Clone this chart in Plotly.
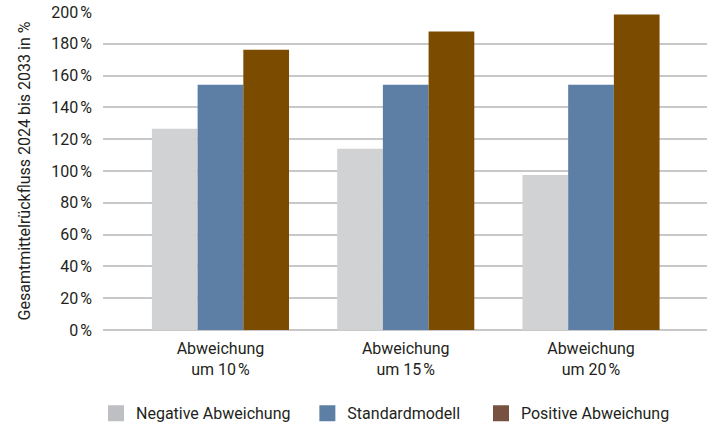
import plotly.graph_objects as go

categories = ["Abweichung<br>um 10\u202f%", "Abweichung<br>um 15\u202f%", "Abweichung<br>um 20\u202f%"]
negative = [126.5, 114, 97.5]
standard = [154.3, 154.3, 154.3]
positive = [176.3, 187.7, 198.4]
series_names = ["Negative Abweichung", "Standardmodell", "Positive Abweichung"]
bar_colors = ["#D1D2D4", "#5E7FA5", "#7B4B00"]
legend_colors = ["#BEBFC3", "#5E7FA5", "#775241"]
y_ticks = [0, 20, 40, 60, 80, 100, 120, 140, 160, 180, 200]
y_ticklabels = [f"{v}\u202f%" for v in y_ticks]

FONT = "Roboto, Open Sans, sans-serif"
pads = [3, 4, 0]

fig = go.Figure()
for vals, col in zip([negative, standard, positive], bar_colors):
    fig.add_trace(go.Bar(x=[0, 1, 2], y=vals, marker=dict(color=col, line=dict(width=0)),
                         showlegend=False, hoverinfo="skip"))
for name, col, p in zip(series_names, legend_colors, pads):
    fig.add_trace(go.Scatter(x=[None], y=[None], mode="markers", name=name + "\u00a0" * p,
                             marker=dict(symbol="square", size=18, color=col)))

fig.update_layout(
    width=713, height=428,
    margin=dict(l=103, r=6, t=12, b=98, pad=0, autoexpand=False),
    plot_bgcolor="white", paper_bgcolor="white",
    barmode="group", bargap=0.26, bargroupgap=0,
    font=dict(family=FONT, size=16, color="#231F20"),
    xaxis=dict(range=[-0.634, 2.626], tickmode="array", tickvals=[0, 1, 2], ticktext=categories,
               showgrid=False, zeroline=False, showline=False, ticks="", fixedrange=True,
               automargin=False, ticklabelstandoff=7),
    yaxis=dict(range=[0, 200], tickmode="array", tickvals=y_ticks, ticktext=y_ticklabels,
               showgrid=True, gridcolor="#C8C8C8", gridwidth=1.5, zeroline=True,
               zerolinecolor="#C8C8C8", zerolinewidth=1.5, ticks="", ticklabelstandoff=10,
               automargin=False, fixedrange=True,
               title=dict(text="Gesamtmittelrückfluss 2024 bis 2033 in %", standoff=16,
                          font=dict(size=16))),
    legend=dict(orientation="h", x=-0.0116, xanchor="left", y=-0.262, yanchor="middle",
                font=dict(size=16), itemwidth=30, traceorder="normal"),
)

fig.write_html(
    "out.html",
    config={"displayModeBar": False},
    post_script="document.body.style.margin='0';document.body.style.overflow='hidden';",
)
